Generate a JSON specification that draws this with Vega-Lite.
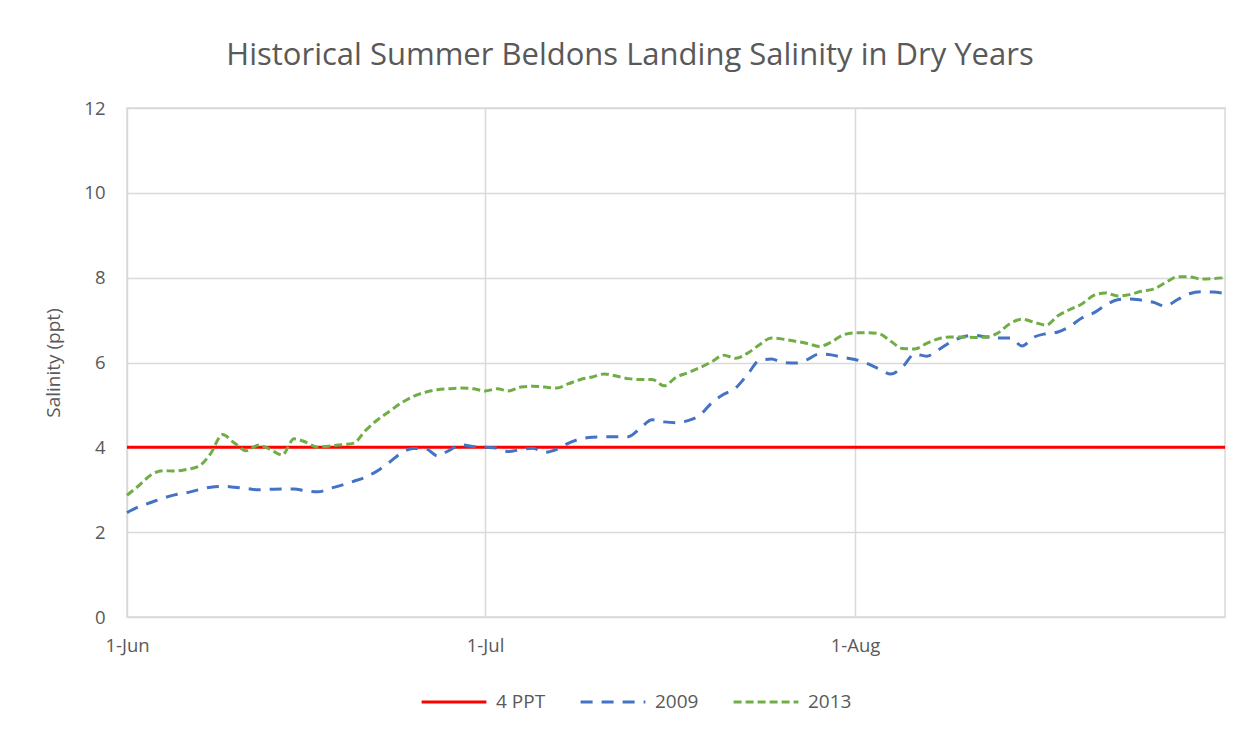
{
  "$schema": "https://vega.github.io/schema/vega-lite/v6.json",
  "width": 1098,
  "height": 509,
  "autosize": "none",
  "padding": {"left": 127, "top": 108, "right": 23, "bottom": 117},
  "background": "white",
  "title": {
    "text": "Historical Summer Beldons Landing Salinity in Dry Years",
    "font": "Open Sans",
    "fontSize": 31,
    "fontWeight": "normal",
    "color": "#595959",
    "anchor": "middle",
    "dx": -46,
    "offset": 27
  },
  "data": {
    "values": [
      {"date": "2013-06-01", "4 PPT": 4, "2009": 2.46, "2013": 2.87},
      {"date": "2013-06-02", "4 PPT": 4, "2009": 2.6, "2013": 3.1},
      {"date": "2013-06-03", "4 PPT": 4, "2009": 2.7, "2013": 3.35},
      {"date": "2013-06-04", "4 PPT": 4, "2009": 2.8, "2013": 3.45},
      {"date": "2013-06-05", "4 PPT": 4, "2009": 2.88, "2013": 3.44},
      {"date": "2013-06-06", "4 PPT": 4, "2009": 2.93, "2013": 3.48},
      {"date": "2013-06-07", "4 PPT": 4, "2009": 3.0, "2013": 3.55},
      {"date": "2013-06-08", "4 PPT": 4, "2009": 3.06, "2013": 3.85},
      {"date": "2013-06-09", "4 PPT": 4, "2009": 3.08, "2013": 4.3},
      {"date": "2013-06-10", "4 PPT": 4, "2009": 3.06, "2013": 4.1},
      {"date": "2013-06-11", "4 PPT": 4, "2009": 3.03, "2013": 3.92},
      {"date": "2013-06-12", "4 PPT": 4, "2009": 3.0, "2013": 4.05},
      {"date": "2013-06-13", "4 PPT": 4, "2009": 3.01, "2013": 3.95},
      {"date": "2013-06-14", "4 PPT": 4, "2009": 3.02, "2013": 3.82},
      {"date": "2013-06-15", "4 PPT": 4, "2009": 3.02, "2013": 4.2},
      {"date": "2013-06-16", "4 PPT": 4, "2009": 2.97, "2013": 4.12},
      {"date": "2013-06-17", "4 PPT": 4, "2009": 2.95, "2013": 4.0},
      {"date": "2013-06-18", "4 PPT": 4, "2009": 3.03, "2013": 4.03},
      {"date": "2013-06-19", "4 PPT": 4, "2009": 3.11, "2013": 4.06},
      {"date": "2013-06-20", "4 PPT": 4, "2009": 3.2, "2013": 4.1},
      {"date": "2013-06-21", "4 PPT": 4, "2009": 3.3, "2013": 4.4},
      {"date": "2013-06-22", "4 PPT": 4, "2009": 3.45, "2013": 4.65},
      {"date": "2013-06-23", "4 PPT": 4, "2009": 3.65, "2013": 4.85},
      {"date": "2013-06-24", "4 PPT": 4, "2009": 3.87, "2013": 5.05},
      {"date": "2013-06-25", "4 PPT": 4, "2009": 3.97, "2013": 5.2},
      {"date": "2013-06-26", "4 PPT": 4, "2009": 3.97, "2013": 5.3},
      {"date": "2013-06-27", "4 PPT": 4, "2009": 3.8, "2013": 5.36},
      {"date": "2013-06-28", "4 PPT": 4, "2009": 3.93, "2013": 5.38},
      {"date": "2013-06-29", "4 PPT": 4, "2009": 4.06, "2013": 5.4},
      {"date": "2013-06-30", "4 PPT": 4, "2009": 4.02, "2013": 5.38},
      {"date": "2013-07-01", "4 PPT": 4, "2009": 4.0, "2013": 5.33},
      {"date": "2013-07-02", "4 PPT": 4, "2009": 3.98, "2013": 5.38},
      {"date": "2013-07-03", "4 PPT": 4, "2009": 3.9, "2013": 5.33},
      {"date": "2013-07-04", "4 PPT": 4, "2009": 3.95, "2013": 5.42},
      {"date": "2013-07-05", "4 PPT": 4, "2009": 3.98, "2013": 5.44},
      {"date": "2013-07-06", "4 PPT": 4, "2009": 3.88, "2013": 5.42},
      {"date": "2013-07-07", "4 PPT": 4, "2009": 3.95, "2013": 5.4},
      {"date": "2013-07-08", "4 PPT": 4, "2009": 4.1, "2013": 5.5},
      {"date": "2013-07-09", "4 PPT": 4, "2009": 4.2, "2013": 5.6},
      {"date": "2013-07-10", "4 PPT": 4, "2009": 4.24, "2013": 5.66},
      {"date": "2013-07-11", "4 PPT": 4, "2009": 4.25, "2013": 5.73},
      {"date": "2013-07-12", "4 PPT": 4, "2009": 4.25, "2013": 5.68},
      {"date": "2013-07-13", "4 PPT": 4, "2009": 4.25, "2013": 5.62},
      {"date": "2013-07-14", "4 PPT": 4, "2009": 4.45, "2013": 5.6},
      {"date": "2013-07-15", "4 PPT": 4, "2009": 4.65, "2013": 5.6},
      {"date": "2013-07-16", "4 PPT": 4, "2009": 4.6, "2013": 5.45},
      {"date": "2013-07-17", "4 PPT": 4, "2009": 4.58, "2013": 5.65},
      {"date": "2013-07-18", "4 PPT": 4, "2009": 4.63, "2013": 5.76},
      {"date": "2013-07-19", "4 PPT": 4, "2009": 4.76, "2013": 5.88},
      {"date": "2013-07-20", "4 PPT": 4, "2009": 5.05, "2013": 6.02},
      {"date": "2013-07-21", "4 PPT": 4, "2009": 5.25, "2013": 6.17},
      {"date": "2013-07-22", "4 PPT": 4, "2009": 5.4, "2013": 6.1},
      {"date": "2013-07-23", "4 PPT": 4, "2009": 5.72, "2013": 6.22},
      {"date": "2013-07-24", "4 PPT": 4, "2009": 6.05, "2013": 6.42},
      {"date": "2013-07-25", "4 PPT": 4, "2009": 6.08, "2013": 6.58},
      {"date": "2013-07-26", "4 PPT": 4, "2009": 6.0, "2013": 6.55},
      {"date": "2013-07-27", "4 PPT": 4, "2009": 5.99, "2013": 6.5},
      {"date": "2013-07-28", "4 PPT": 4, "2009": 6.07, "2013": 6.45},
      {"date": "2013-07-29", "4 PPT": 4, "2009": 6.2, "2013": 6.38},
      {"date": "2013-07-30", "4 PPT": 4, "2009": 6.18, "2013": 6.48},
      {"date": "2013-07-31", "4 PPT": 4, "2009": 6.12, "2013": 6.65},
      {"date": "2013-08-01", "4 PPT": 4, "2009": 6.07, "2013": 6.7},
      {"date": "2013-08-02", "4 PPT": 4, "2009": 5.98, "2013": 6.7},
      {"date": "2013-08-03", "4 PPT": 4, "2009": 5.85, "2013": 6.68},
      {"date": "2013-08-04", "4 PPT": 4, "2009": 5.73, "2013": 6.5},
      {"date": "2013-08-05", "4 PPT": 4, "2009": 5.9, "2013": 6.33},
      {"date": "2013-08-06", "4 PPT": 4, "2009": 6.2, "2013": 6.32},
      {"date": "2013-08-07", "4 PPT": 4, "2009": 6.15, "2013": 6.45},
      {"date": "2013-08-08", "4 PPT": 4, "2009": 6.3, "2013": 6.56},
      {"date": "2013-08-09", "4 PPT": 4, "2009": 6.48, "2013": 6.6},
      {"date": "2013-08-10", "4 PPT": 4, "2009": 6.6, "2013": 6.6},
      {"date": "2013-08-11", "4 PPT": 4, "2009": 6.64, "2013": 6.59},
      {"date": "2013-08-12", "4 PPT": 4, "2009": 6.6, "2013": 6.6},
      {"date": "2013-08-13", "4 PPT": 4, "2009": 6.58, "2013": 6.7},
      {"date": "2013-08-14", "4 PPT": 4, "2009": 6.58, "2013": 6.92},
      {"date": "2013-08-15", "4 PPT": 4, "2009": 6.39, "2013": 7.02},
      {"date": "2013-08-16", "4 PPT": 4, "2009": 6.6, "2013": 6.95},
      {"date": "2013-08-17", "4 PPT": 4, "2009": 6.68, "2013": 6.88},
      {"date": "2013-08-18", "4 PPT": 4, "2009": 6.72, "2013": 7.1},
      {"date": "2013-08-19", "4 PPT": 4, "2009": 6.85, "2013": 7.25},
      {"date": "2013-08-20", "4 PPT": 4, "2009": 7.05, "2013": 7.38},
      {"date": "2013-08-21", "4 PPT": 4, "2009": 7.17, "2013": 7.58},
      {"date": "2013-08-22", "4 PPT": 4, "2009": 7.35, "2013": 7.64},
      {"date": "2013-08-23", "4 PPT": 4, "2009": 7.48, "2013": 7.57},
      {"date": "2013-08-24", "4 PPT": 4, "2009": 7.5, "2013": 7.6},
      {"date": "2013-08-25", "4 PPT": 4, "2009": 7.47, "2013": 7.68},
      {"date": "2013-08-26", "4 PPT": 4, "2009": 7.42, "2013": 7.73},
      {"date": "2013-08-27", "4 PPT": 4, "2009": 7.33, "2013": 7.88},
      {"date": "2013-08-28", "4 PPT": 4, "2009": 7.48, "2013": 8.02},
      {"date": "2013-08-29", "4 PPT": 4, "2009": 7.62, "2013": 8.02},
      {"date": "2013-08-30", "4 PPT": 4, "2009": 7.67, "2013": 7.97},
      {"date": "2013-08-31", "4 PPT": 4, "2009": 7.66, "2013": 7.98},
      {"date": "2013-09-01", "4 PPT": 4, "2009": 7.63, "2013": 8.0}
    ]
  },
  "transform": [
    {"fold": ["4 PPT", "2009", "2013"], "as": ["series", "salinity"]}
  ],
  "mark": {"type": "line", "strokeWidth": 3, "interpolate": "monotone"},
  "encoding": {
    "x": {
      "field": "date",
      "type": "temporal",
      "scale": {
        "type": "utc",
        "domain": [
          {"year": 2013, "month": 6, "date": 1, "utc": true},
          {"year": 2013, "month": 9, "date": 1, "utc": true}
        ]
      },
      "axis": {
        "title": null,
        "values": [
          {"year": 2013, "month": 6, "date": 1, "utc": true},
          {"year": 2013, "month": 7, "date": 1, "utc": true},
          {"year": 2013, "month": 8, "date": 1, "utc": true}
        ],
        "format": "%-d-%b",
        "ticks": false,
        "domain": false,
        "labelPadding": 19,
        "labelFontSize": 18.5,
        "labelFont": "Open Sans",
        "labelColor": "#595959",
        "labelFlush": false,
        "gridColor": "#d9d9d9",
        "gridWidth": 1.5
      }
    },
    "y": {
      "field": "salinity",
      "type": "quantitative",
      "scale": {"domain": [0, 12], "nice": false},
      "axis": {
        "title": "Salinity (ppt)",
        "values": [0, 2, 4, 6, 8, 10, 12],
        "ticks": false,
        "domain": false,
        "labelPadding": 22,
        "labelFontSize": 18.5,
        "labelFont": "Open Sans",
        "labelColor": "#595959",
        "titleFont": "Open Sans",
        "titleFontSize": 19,
        "titleFontWeight": "normal",
        "titleColor": "#595959",
        "titlePadding": 20,
        "gridColor": "#d9d9d9",
        "gridWidth": 1.5
      }
    },
    "color": {
      "field": "series",
      "type": "nominal",
      "scale": {
        "domain": ["4 PPT", "2009", "2013"],
        "range": ["#ff0000", "#4472c4", "#70ad47"]
      },
      "legend": {
        "title": null,
        "orient": "none",
        "direction": "horizontal",
        "legendX": 293,
        "legendY": 560,
        "symbolType": "stroke",
        "symbolSize": 4200,
        "symbolStrokeWidth": 3,
        "labelFontSize": 19,
        "labelFont": "Open Sans",
        "labelColor": "#595959",
        "columnPadding": 28,
        "labelOffset": 8
      }
    },
    "strokeDash": {
      "field": "series",
      "type": "nominal",
      "scale": {
        "domain": ["4 PPT", "2009", "2013"],
        "range": [[1, 0], [12, 9], [8, 4]]
      },
      "legend": {
        "title": null,
        "orient": "none",
        "direction": "horizontal",
        "legendX": 293,
        "legendY": 560,
        "symbolType": "stroke",
        "symbolSize": 4200,
        "symbolStrokeWidth": 3,
        "labelFontSize": 19,
        "labelFont": "Open Sans",
        "labelColor": "#595959",
        "columnPadding": 28,
        "labelOffset": 8
      }
    }
  },
  "config": {
    "view": {"stroke": "#d9d9d9", "strokeWidth": 1.5}
  }
}
